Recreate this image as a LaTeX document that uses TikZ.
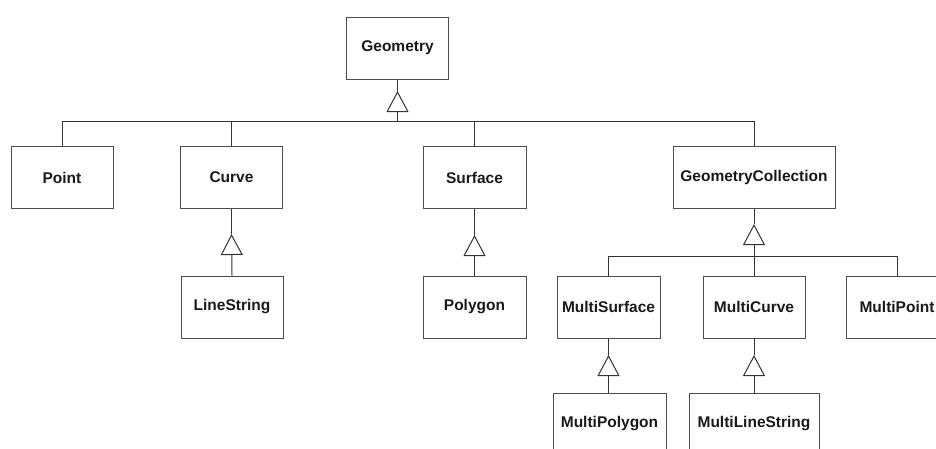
\documentclass[tikz,border=0pt]{standalone}
\usepackage{fontspec}
\setmainfont{Liberation Sans}
\usetikzlibrary{arrows.meta}
\begin{document}
\begin{tikzpicture}[x=1pt,y=-1pt,
  cls/.style={draw=black!70, line width=1pt, rectangle, inner sep=0pt,
    minimum width=102pt, minimum height=62pt, text=black!90,
    font=\fontsize{15.5}{18}\selectfont\bfseries},
  conn/.style={draw=black!80, line width=1pt},
  inherit/.style={conn, -{Triangle[open, length=21pt, width=22pt]}, line join=miter}
]
\useasboundingbox (0,0) rectangle (936,448);

% classes
\node[cls] (geometry) at (397.5,48) {Geometry};
\node[cls] (point)    at (62,177.5) {Point};
\node[cls] (curve)    at (231.5,177.5) {Curve};
\node[cls, minimum width=103pt] (surface) at (474.5,177.5) {Surface};
\node[cls, minimum width=162pt] (gcoll) at (754,177) {GeometryCollection};
\node[cls] (linestring) at (232,307) {LineString};
\node[cls, minimum width=103pt] (polygon) at (474.5,307) {Polygon};
\node[cls, minimum width=103pt] (msurface) at (608.5,307) {MultiSurface};
\node[cls] (mcurve) at (754,307) {MultiCurve};
\node[cls] (mpoint) at (897,307) {MultiPoint};
\node[cls, minimum width=113pt] (mpolygon) at (609.5,424) {MultiPolygon};
\node[cls, minimum width=130pt] (mlinestring) at (754,424) {MultiLineString};

% Geometry hierarchy
\coordinate (gapex) at (397.5,91);
\coordinate (gbus) at (397.5,121);
\draw[conn] (geometry.south) -- (gapex);
\draw[inherit] (gbus) -- (gapex);
\draw[conn] (point.north) |- (gcoll.north |- gbus) -- (gcoll.north);
\draw[conn] (curve.north) -- (curve.north |- gbus);
\draw[conn] (surface.north) -- (surface.north |- gbus);

% Curve -> LineString
\coordinate (capex) at (231.5,234);
\draw[conn] (curve.south) -- (capex);
\draw[inherit] (linestring.north) -- (capex);

% Surface -> Polygon
\coordinate (sapex) at (474.5,235);
\draw[conn] (surface.south) -- (sapex);
\draw[inherit] (polygon.north) -- (sapex);

% GeometryCollection hierarchy
\coordinate (gcapex) at (754,224);
\coordinate (gcbus) at (754,256);
\draw[conn] (gcoll.south) -- (gcapex);
\draw[inherit] (gcbus) -- (gcapex);
\draw[conn] (msurface.north) |- (mpoint.north |- gcbus) -- (mpoint.north);
\draw[conn] (mcurve.north) -- (gcbus);

% MultiSurface -> MultiPolygon
\coordinate (msapex) at (608.5,355);
\draw[conn] (msurface.south) -- (msapex);
\draw[inherit] (msurface.south |- mpolygon.north) -- (msapex);

% MultiCurve -> MultiLineString
\coordinate (mcapex) at (754,355);
\draw[conn] (mcurve.south) -- (mcapex);
\draw[inherit] (mlinestring.north) -- (mcapex);
\end{tikzpicture}
\end{document}
